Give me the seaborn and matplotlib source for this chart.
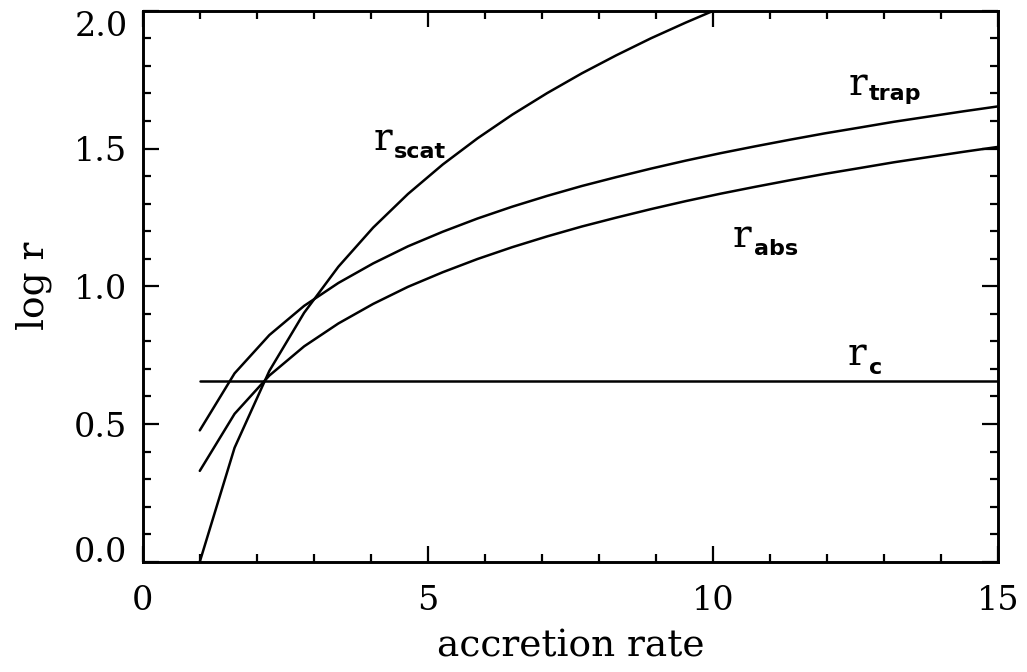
import matplotlib
matplotlib.use("Agg")
import matplotlib.pyplot as plt
import seaborn as sns
import pandas as pd
from matplotlib.ticker import MultipleLocator

# ---- data ----
accretion = [1.0, 1.61, 2.22, 2.83, 3.43, 4.04, 4.65, 5.26, 5.87, 6.48, 7.09, 7.70,
             8.30, 8.91, 9.52, 10.13, 10.74, 11.35, 11.96, 12.57, 13.17, 13.78, 14.39, 15.0]
log_r_scat = [0.000, 0.414, 0.693, 0.904, 1.071, 1.213, 1.335, 1.442, 1.537, 1.623, 1.701, 1.773,
              1.838, 1.900, 1.957, 2.011, 2.062, 2.110, 2.155, 2.199, 2.239, 2.279, 2.316, 2.352]
log_r_trap = [0.477, 0.684, 0.823, 0.929, 1.012, 1.083, 1.145, 1.198, 1.246, 1.289, 1.328, 1.364,
              1.396, 1.427, 1.456, 1.483, 1.508, 1.532, 1.555, 1.576, 1.597, 1.616, 1.635, 1.653]
log_r_abs = [0.330, 0.537, 0.676, 0.782, 0.865, 0.936, 0.998, 1.051, 1.099, 1.142, 1.181, 1.217,
             1.249, 1.280, 1.309, 1.336, 1.361, 1.385, 1.408, 1.429, 1.450, 1.469, 1.488, 1.506]
log_r_c = [0.655] * len(accretion)

x_ticks = [0, 5, 10, 15]
y_ticks = [0.0, 0.5, 1.0, 1.5, 2.0]
y_tick_labels = ["0.0", "0.5", "1.0", "1.5", "2.0"]

# subscript, anchor for "r", anchor for subscript (data coords)
curve_labels = [
    ("scat", (4.04, 1.494), (4.40, 1.465)),
    ("trap", (12.37, 1.694), (12.73, 1.676)),
    ("abs", (10.35, 1.143), (10.71, 1.113)),
    ("c", (12.36, 0.714), (12.73, 0.681)),
]

df = pd.DataFrame({
    "accretion": accretion * 4,
    "logr": log_r_scat + log_r_trap + log_r_abs + log_r_c,
    "curve": (["scat"] * len(accretion) + ["trap"] * len(accretion)
              + ["abs"] * len(accretion) + ["c"] * len(accretion)),
})

sns.set_theme(style="ticks")
plt.rcParams["font.family"] = ["DejaVu Serif", "DejaVu Sans"]

fig = plt.figure(figsize=(10.27, 6.72), dpi=100)
ax = fig.add_axes([0.139, 0.164, 0.833, 0.820])

sns.lineplot(data=df, x="accretion", y="logr", units="curve", estimator=None,
             sort=False, color="black", linewidth=1.8, ax=ax)

ax.set_xlim(0, 15)
ax.set_ylim(0, 2.0)
ax.set_xticks(x_ticks)
ax.set_xticklabels([str(t) for t in x_ticks])
ax.set_yticks(y_ticks)
ax.set_yticklabels(y_tick_labels)
ax.xaxis.set_minor_locator(MultipleLocator(1))
ax.yaxis.set_minor_locator(MultipleLocator(0.1))

ax.tick_params(which="both", direction="in", top=True, right=True, color="black",
               width=1.6, labelsize=24, labelcolor="black")
ax.tick_params(which="major", length=11.5)
ax.tick_params(which="minor", length=5.8)
ax.tick_params(axis="x", which="major", pad=17)
ax.tick_params(axis="y", which="major", pad=11)

# extreme y labels sit inside the axis range, as in the reference
yt = ax.yaxis.get_major_ticks()
yt[0].label1.set_verticalalignment("baseline")
yt[-1].label1.set_verticalalignment("top")

for sp in ax.spines.values():
    sp.set_visible(True)
    sp.set_linewidth(2.1)
    sp.set_color("black")

ax.set_xlabel("accretion rate", fontsize=27, labelpad=8, color="black")
ax.set_ylabel("log r", fontsize=27, labelpad=16, color="black")

for sub, rpos, spos in curve_labels:
    ax.text(rpos[0], rpos[1], "r", fontsize=28, family="DejaVu Serif",
            ha="left", va="baseline", color="black")
    ax.text(spos[0], spos[1], sub, fontsize=16, family="DejaVu Sans",
            fontweight="bold", ha="left", va="baseline", color="black")

fig.savefig("out.png", dpi=100, facecolor="white")
